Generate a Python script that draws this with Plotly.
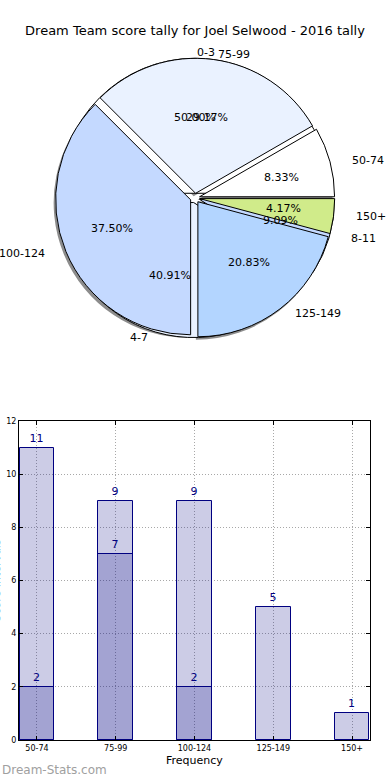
import math
import plotly.graph_objects as go

W, H = 390, 780

title_text = "Dream Team score tally for Joel Selwood - 2016 tally"

# Pie 1 / bar series 1: score ranges
score_labels = ["50-74", "75-99", "100-124", "125-149", "150+"]
score_counts = [2, 7, 9, 5, 1]

# Pie 2 / bar series 2
other_labels = ["0-3", "4-7", "8-11"]
other_counts = [11, 9, 2]

pie_colors = ["#ffffff", "#eaf2ff", "#c4d9ff", "#b3d5ff", "#d0eb8a"]

x_label = "Frequency"
y_label = "Score Intervals"
watermark = "Dream-Stats.com"

FONT = "DejaVu Sans"

# ---- pie geometry (pixels) ----
cx, cy, r = 195, 198, 135
pull = 0.035
half = r * (1 + pull)
dom_x = [(cx - half) / W, (cx + half) / W]
dom_y = [1 - (cy + half) / H, 1 - (cy - half) / H]
# text layout radii (the original was drawn on a slightly wide ellipse)
text_rx, text_ry, text_pull = 142, 128.5, 0.03


def start_rotation(values):
    # plotly places the first counterclockwise slice clockwise of `rotation`;
    # shift so the first slice starts at 3 o'clock like matplotlib's default
    return 90 - 360.0 * values[0] / sum(values)


fig = go.Figure()

# shadow
sh_dx, sh_dy = -2, 3
fig.add_trace(go.Pie(
    values=score_counts, labels=score_labels, sort=False,
    direction="counterclockwise", rotation=start_rotation(score_counts),
    pull=[pull] * len(score_counts),
    marker=dict(colors=["rgba(0,0,0,0.45)"] * len(score_counts), line=dict(width=0)),
    textinfo="none", hoverinfo="skip", showlegend=False,
    domain=dict(x=[dom_x[0] + sh_dx / W, dom_x[1] + sh_dx / W],
                y=[dom_y[0] - sh_dy / H, dom_y[1] - sh_dy / H]),
))

fig.add_trace(go.Pie(
    values=other_counts, labels=other_labels, sort=False,
    direction="counterclockwise", rotation=start_rotation(other_counts),
    pull=[pull] * len(other_counts),
    marker=dict(colors=pie_colors[:len(other_counts)], line=dict(color="black", width=1)),
    textinfo="none", showlegend=False,
    domain=dict(x=dom_x, y=dom_y),
))

fig.add_trace(go.Pie(
    values=score_counts, labels=score_labels, sort=False,
    direction="counterclockwise", rotation=start_rotation(score_counts),
    pull=[pull] * len(score_counts),
    marker=dict(colors=pie_colors[:len(score_counts)], line=dict(color="black", width=1)),
    textinfo="none", showlegend=False,
    domain=dict(x=dom_x, y=dom_y),
))

annotations = []


def pie_texts(labels, values):
    total = sum(values)
    start = 0.0
    for lab, v in zip(labels, values):
        frac = v / total
        mid = math.radians((start + frac / 2) * 360)
        start += frac
        c, s = math.cos(mid), math.sin(mid)
        d_lab = 1.1 + text_pull
        d_pct = 0.6 + text_pull
        annotations.append(dict(
            x=(cx + d_lab * text_rx * c) / W, y=1 - (cy - d_lab * text_ry * s) / H,
            xref="paper", yref="paper", text=lab, showarrow=False,
            xanchor="left" if c > 0 else "right", yanchor="middle",
            font=dict(family=FONT, size=11, color="black")))
        annotations.append(dict(
            x=(cx + d_pct * text_rx * c) / W, y=1 - (cy - d_pct * text_ry * s) / H,
            xref="paper", yref="paper", text=f"{frac * 100:.2f}%", showarrow=False,
            xanchor="center", yanchor="middle",
            font=dict(family=FONT, size=11, color="black")))


pie_texts(other_labels, other_counts)
pie_texts(score_labels, score_counts)

# ---- bar chart ----
bar_color = "rgba(0,0,128,0.2)"
edge = "#000080"
fig.add_trace(go.Bar(
    x=list(range(len(score_counts))), y=score_counts, width=0.44,
    marker=dict(color=bar_color, line=dict(color=edge, width=1)),
    text=[str(v) for v in score_counts], textposition="outside",
    textfont=dict(family=FONT, size=11, color=edge), cliponaxis=False,
    showlegend=False, xaxis="x", yaxis="y",
))
fig.add_trace(go.Bar(
    x=list(range(len(other_counts))), y=other_counts, width=0.44,
    marker=dict(color=bar_color, line=dict(color=edge, width=1)),
    text=[str(v) for v in other_counts], textposition="outside",
    textfont=dict(family=FONT, size=11, color=edge), cliponaxis=False,
    showlegend=False, xaxis="x", yaxis="y",
))

px0, px1 = 19, 370
py0, py1 = 421, 740

annotations.append(dict(
    x=-4 / W, y=1 - ((py0 + py1) / 2) / H, xref="paper", yref="paper",
    text=y_label, textangle=-90, showarrow=False, xanchor="center", yanchor="middle",
    font=dict(family=FONT, size=11, color="black")))
annotations.append(dict(
    x=(px0 + px1) / 2 / W, y=1 - 760 / H, xref="paper", yref="paper",
    text=x_label, showarrow=False, xanchor="center", yanchor="middle",
    font=dict(family=FONT, size=11, color="black")))
annotations.append(dict(
    x=0, y=1 - 770 / H, xref="paper", yref="paper",
    text=watermark, showarrow=False, xanchor="left", yanchor="middle",
    font=dict(family=FONT, size=12, color="#a0a0a0")))

grid_kw = dict(showgrid=True, gridcolor="#a8a8a8", griddash="1px,2px", gridwidth=1,
               showline=True, linecolor="black", linewidth=1, mirror="allticks",
               ticks="inside", ticklen=4, tickcolor="black", zeroline=False,
               automargin=False,
               tickfont=dict(family=FONT, size=8, color="black"))

fig.update_layout(
    width=W, height=H,
    margin=dict(l=0, r=0, t=0, b=0, pad=0),
    paper_bgcolor="white", plot_bgcolor="white",
    barmode="overlay", bargap=0,
    title=dict(text=title_text, x=0.5, xanchor="center", y=1 - 30 / H, yanchor="middle",
               font=dict(family=FONT, size=13, color="black")),
    font=dict(family=FONT, color="black"),
    annotations=annotations,
    xaxis=dict(
        domain=[px0 / W, px1 / W], range=[-0.228, 4.228],
        tickvals=list(range(len(score_labels))), ticktext=score_labels, **grid_kw,
    ),
    yaxis=dict(
        domain=[1 - py1 / H, 1 - py0 / H], range=[0, 12], dtick=2, **grid_kw,
    ),
)

fig.write_html(
    "out.html",
    config={"displayModeBar": False},
    post_script="document.body.style.margin='0';document.body.style.overflow='hidden';",
)
